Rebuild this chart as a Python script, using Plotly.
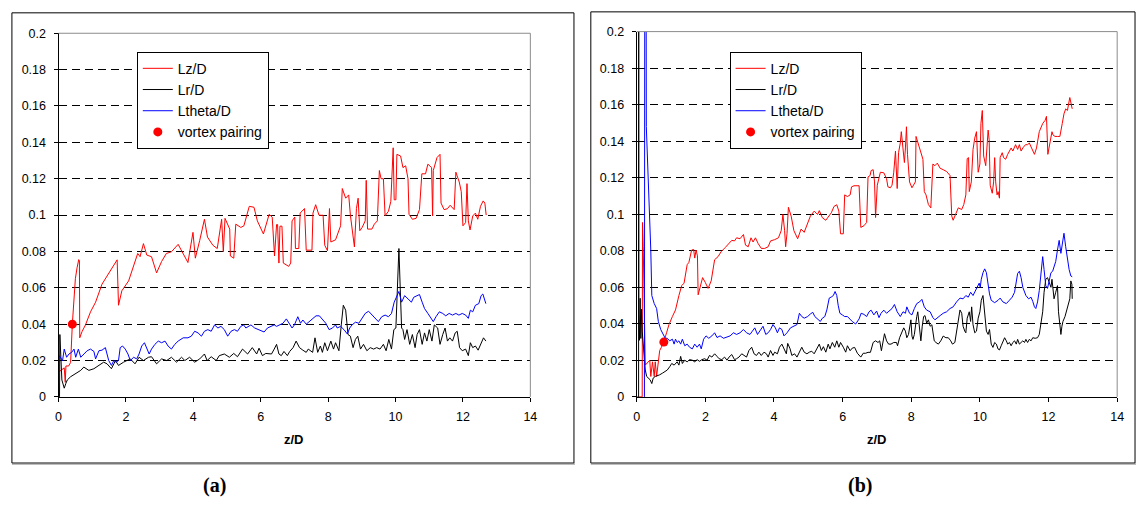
import plotly.graph_objects as go

# ---------------- panel (a) ----------------
a_lz_z = [0.03, 0.12, 0.17, 0.20, 0.22, 0.30, 0.36, 0.41, 0.50, 0.55, 0.60, 0.62, 0.63, 0.70, 0.80, 0.95,
          1.10, 1.29, 1.44, 1.64, 1.74, 1.78, 1.88, 2.08, 2.23, 2.35, 2.42, 2.52, 2.62, 2.76, 2.91, 3.06,
          3.20, 3.35, 3.55, 3.70, 3.84, 3.99, 4.06, 4.19, 4.33, 4.42, 4.58, 4.71, 4.78, 4.84, 4.89, 4.94,
          5.08, 5.10, 5.20, 5.26, 5.41, 5.50, 5.66, 5.80, 5.90, 6.08, 6.25, 6.34, 6.41, 6.47, 6.50, 6.54,
          6.57, 6.63, 6.67, 6.76, 6.83, 6.89, 6.93, 7.01, 7.03, 7.13, 7.17, 7.30, 7.35, 7.52, 7.55, 7.63,
          7.73, 7.85, 7.90, 7.98, 8.04, 8.08, 8.22, 8.37, 8.42, 8.52, 8.61, 8.66, 8.78, 8.84, 8.89, 8.94,
          9.01, 9.10, 9.13, 9.17, 9.30, 9.37, 9.46, 9.52, 9.57, 9.64, 9.69, 9.79, 9.86, 9.93, 9.96, 10.01,
          10.04, 10.15, 10.22, 10.30, 10.37, 10.40, 10.50, 10.61, 10.71, 10.78, 10.89, 10.96, 11.07, 11.10,
          11.12, 11.23, 11.32, 11.35, 11.44, 11.54, 11.62, 11.74, 11.79, 11.89, 11.95, 12.00, 12.08, 12.12,
          12.16, 12.21, 12.29, 12.37, 12.44, 12.52, 12.60, 12.65, 12.69]
a_lz_v = [0.014, 0.015, 0.016, 0.008, 0.017, 0.017, 0.019, 0.040, 0.065, 0.071, 0.0755, 0.075, 0.0325, 0.036, 0.0396, 0.0468,
          0.0521, 0.062, 0.0664, 0.0727, 0.0754, 0.0504, 0.0584, 0.0638, 0.0718, 0.0789, 0.0771, 0.0843, 0.078, 0.0771, 0.0682, 0.0745,
          0.0789, 0.0798, 0.0839, 0.0789, 0.0739, 0.0905, 0.0763, 0.0861, 0.0977, 0.0879, 0.0834, 0.0816, 0.0914, 0.0977, 0.0798, 0.0982,
          0.0923, 0.0775, 0.0763, 0.095, 0.0932, 0.0941, 0.1048, 0.1043, 0.0968, 0.0896, 0.1004, 0.0989, 0.0775, 0.0948, 0.0948, 0.0736,
          0.0939, 0.0939, 0.0736, 0.0727, 0.0718, 0.0736, 0.0968, 0.0989, 0.0816, 0.0816, 0.1011, 0.1036, 0.0807, 0.0807, 0.1011, 0.1057,
          0.0999, 0.0999, 0.0834, 0.0804, 0.1036, 0.0852, 0.0864, 0.0941, 0.1146, 0.1093, 0.1111, 0.1000, 0.0825, 0.1036, 0.1093, 0.0914,
          0.0932, 0.0968, 0.1191, 0.0923, 0.0923, 0.0950, 0.0968, 0.1245, 0.1200, 0.1200, 0.0996, 0.1021, 0.1075, 0.1370, 0.1084, 0.1084,
          0.1334, 0.1325, 0.1261, 0.1271, 0.1200, 0.1004, 0.0977, 0.0982, 0.1030, 0.1227, 0.1227, 0.1280, 0.1261, 0.0995,
          0.1245, 0.1316, 0.1334, 0.1066, 0.1030, 0.1035, 0.1054, 0.1030, 0.1236, 0.1182, 0.1129, 0.0941, 0.0959, 0.1173,
          0.0968, 0.0918, 0.0995, 0.1011, 0.0977, 0.1048, 0.1078, 0.1066, 0.1000]

a_lr_z = [0.03, 0.04, 0.10, 0.17, 0.22, 0.26, 0.36, 0.51, 0.66, 0.75, 0.90, 1.05, 1.20, 1.34, 1.44, 1.57,
          1.69, 1.78, 1.93, 2.13, 2.27, 2.39, 2.52, 2.67, 2.76, 2.91, 3.06, 3.21, 3.35, 3.50, 3.65, 3.75,
          3.89, 4.04, 4.19, 4.33, 4.41, 4.53, 4.68, 4.77, 4.92, 5.07, 5.20, 5.31, 5.46, 5.61, 5.75, 5.88,
          5.95, 6.05, 6.15, 6.32, 6.40, 6.47, 6.54, 6.61, 6.69, 6.79, 6.86, 6.96, 7.05, 7.15, 7.25, 7.35,
          7.41, 7.54, 7.61, 7.69, 7.77, 7.83, 7.90, 7.98, 8.08, 8.16, 8.22, 8.32, 8.39, 8.45, 8.52, 8.59,
          8.66, 8.74, 8.81, 8.88, 8.96, 9.05, 9.15, 9.25, 9.35, 9.44, 9.54, 9.64, 9.72, 9.80, 9.88, 9.95,
          10.01, 10.06, 10.10, 10.14, 10.18, 10.22, 10.27, 10.34, 10.42, 10.50, 10.58, 10.64, 10.71, 10.79,
          10.86, 10.93, 11.00, 11.08, 11.15, 11.25, 11.32, 11.40, 11.47, 11.54, 11.61, 11.69, 11.77, 11.83,
          11.90, 11.98, 12.08, 12.16, 12.22, 12.29, 12.37, 12.45, 12.55, 12.61, 12.68]
a_lr_v = [0.0, 0.0343, 0.0093, 0.0048, 0.0075, 0.0093, 0.0111, 0.0129, 0.0146, 0.0164, 0.0146, 0.0155, 0.0173, 0.0191, 0.0182, 0.0155,
          0.0200, 0.0173, 0.0191, 0.0209, 0.0182, 0.0218, 0.0200, 0.0218, 0.0221, 0.0182, 0.0209, 0.0200, 0.0218, 0.0191, 0.0218, 0.0200,
          0.0218, 0.0191, 0.0209, 0.0236, 0.0200, 0.0221, 0.0200, 0.0227, 0.0236, 0.0218, 0.0239, 0.0221, 0.0263, 0.0236, 0.0271, 0.0236,
          0.0268, 0.0227, 0.0239, 0.0236, 0.0263, 0.0289, 0.0236, 0.0227, 0.0250, 0.0227, 0.0250, 0.0271, 0.0307, 0.0271, 0.0257, 0.0245,
          0.0263, 0.0245, 0.0325, 0.0245, 0.0280, 0.0245, 0.0298, 0.0254, 0.0307, 0.0263, 0.0298, 0.0254, 0.0396, 0.0504, 0.0477, 0.0343,
          0.0334, 0.0271, 0.0316, 0.0334, 0.0263, 0.0289, 0.0254, 0.0271, 0.0263, 0.0271, 0.0263, 0.0289, 0.0254, 0.0316, 0.0263, 0.0370,
          0.0379, 0.0593, 0.0816, 0.0593, 0.0379, 0.0370, 0.0316, 0.0370, 0.0289, 0.0343, 0.0271, 0.0343, 0.0370, 0.0289,
          0.0352, 0.0307, 0.0370, 0.0307, 0.0396, 0.0379, 0.0289, 0.0343, 0.0379, 0.0307, 0.0325, 0.0307, 0.0352, 0.0361,
          0.0271, 0.0254, 0.0263, 0.0227, 0.0298, 0.0271, 0.0280, 0.0257, 0.0298, 0.0325, 0.0307]

a_lt_z = [0.0, 0.02, 0.12, 0.17, 0.24, 0.31, 0.39, 0.46, 0.51, 0.59, 0.66, 0.75, 0.85, 0.95, 1.05, 1.10,
          1.20, 1.29, 1.39, 1.49, 1.57, 1.64, 1.71, 1.78, 1.83, 1.90, 1.98, 2.06, 2.13, 2.23, 2.32, 2.39,
          2.47, 2.55, 2.62, 2.69, 2.76, 2.86, 2.96, 3.06, 3.16, 3.25, 3.35, 3.45, 3.55, 3.70, 3.84, 3.94,
          4.04, 4.14, 4.24, 4.33, 4.43, 4.53, 4.63, 4.73, 4.82, 4.92, 5.02, 5.12, 5.22, 5.31, 5.41, 5.49,
          5.56, 5.63, 5.71, 5.82, 5.95, 6.10, 6.20, 6.32, 6.40, 6.47, 6.57, 6.66, 6.76, 6.86, 6.93, 7.00,
          7.10, 7.18, 7.25, 7.35, 7.44, 7.54, 7.64, 7.74, 7.83, 7.93, 8.03, 8.13, 8.22, 8.27, 8.37, 8.47,
          8.57, 8.64, 8.71, 8.81, 8.91, 9.00, 9.10, 9.20, 9.30, 9.40, 9.49, 9.59, 9.69, 9.79, 9.88, 9.96,
          10.03, 10.10, 10.18, 10.27, 10.37, 10.47, 10.54, 10.62, 10.71, 10.79, 10.86, 10.96, 11.05, 11.12,
          11.20, 11.30, 11.40, 11.49, 11.59, 11.69, 11.79, 11.88, 11.98, 12.08, 12.16, 12.22, 12.29, 12.37,
          12.47, 12.54, 12.59, 12.64, 12.68]
a_lt_v = [0.0, 0.0227, 0.0200, 0.0263, 0.0218, 0.0236, 0.0245, 0.0263, 0.0218, 0.0263, 0.0218, 0.0236, 0.0254, 0.0263, 0.0250, 0.0209,
          0.0254, 0.0257, 0.0271, 0.0200, 0.0173, 0.0200, 0.0191, 0.0200, 0.0271, 0.0280, 0.0263, 0.0236, 0.0200, 0.0218, 0.0209, 0.0236,
          0.0280, 0.0298, 0.0263, 0.0236, 0.0263, 0.0289, 0.0307, 0.0298, 0.0307, 0.0280, 0.0263, 0.0289, 0.0307, 0.0325, 0.0325, 0.0334,
          0.0361, 0.0352, 0.0334, 0.0361, 0.0370, 0.0361, 0.0396, 0.0379, 0.0388, 0.0370, 0.0334, 0.0361, 0.0370, 0.0361, 0.0388, 0.0396,
          0.0379, 0.0388, 0.0396, 0.0379, 0.0370, 0.0357, 0.0379, 0.0389, 0.0396, 0.0388, 0.0396, 0.0405, 0.0429, 0.0396, 0.0379, 0.0396,
          0.0441, 0.0405, 0.0423, 0.0400, 0.0414, 0.0432, 0.0446, 0.0446, 0.0429, 0.0405, 0.0370, 0.0379, 0.0396, 0.0379, 0.0388, 0.0370,
          0.0346, 0.0379, 0.0396, 0.0411, 0.0405, 0.0432, 0.0459, 0.0471, 0.0450, 0.0432, 0.0414, 0.0441, 0.0450, 0.0441, 0.0459, 0.0521,
          0.0548, 0.0580, 0.0521, 0.0557, 0.0539, 0.0521, 0.0548, 0.0557, 0.0563, 0.0521, 0.0486, 0.0459, 0.0432, 0.0414,
          0.0441, 0.0468, 0.0459, 0.0446, 0.0459, 0.0450, 0.0459, 0.0450, 0.0459, 0.0450, 0.0432, 0.0477, 0.0468, 0.0504,
          0.0513, 0.0557, 0.0566, 0.0539, 0.0513]

a_pair_z = [0.41]
a_pair_v = [0.040]

# ---------------- panel (b) ----------------
b_lz_z = [0.0, 0.16, 0.17, 0.19, 0.25, 0.32, 0.38, 0.41, 0.46, 0.51, 0.54, 0.58, 0.63, 0.67, 0.72, 0.79,
          0.87, 0.94, 1.04, 1.13, 1.23, 1.31, 1.38, 1.47, 1.52, 1.60, 1.66, 1.69, 1.73, 1.77, 1.79, 1.86,
          1.92, 2.00, 2.08, 2.17, 2.27, 2.37, 2.46, 2.58, 2.67, 2.77, 2.85, 2.91, 3.01, 3.11, 3.17, 3.25,
          3.33, 3.39, 3.46, 3.54, 3.63, 3.73, 3.83, 3.90, 4.02, 4.13, 4.21, 4.26, 4.31, 4.34, 4.38, 4.42,
          4.50, 4.58, 4.69, 4.79, 4.88, 4.98, 5.06, 5.17, 5.27, 5.32, 5.41, 5.51, 5.61, 5.67, 5.75, 5.83,
          5.89, 5.94, 6.02, 6.06, 6.14, 6.22, 6.26, 6.33, 6.48, 6.53, 6.62, 6.70, 6.74, 6.80, 6.83, 6.89,
          6.93, 6.96, 7.01, 7.06, 7.10, 7.20, 7.28, 7.32, 7.39, 7.44, 7.49, 7.54, 7.59, 7.63, 7.68, 7.71,
          7.76, 7.80, 7.83, 7.86, 7.89, 7.95, 8.02, 8.07, 8.12, 8.14, 8.21, 8.28, 8.34, 8.38, 8.43, 8.50,
          8.57, 8.63, 8.69, 8.76, 8.84, 8.93, 9.03, 9.13, 9.18, 9.22, 9.30, 9.37, 9.47, 9.53, 9.59, 9.63,
          9.67, 9.69, 9.75, 9.80, 9.85, 9.90, 9.95, 10.00, 10.03, 10.07, 10.11, 10.17, 10.24, 10.27, 10.30, 10.36,
          10.40, 10.43, 10.46, 10.50, 10.53, 10.57, 10.59, 10.65, 10.69, 10.75, 10.81, 10.86, 10.91, 10.96, 11.04, 11.10,
          11.15, 11.20, 11.25, 11.33, 11.39, 11.44, 11.52, 11.59, 11.65, 11.73, 11.83, 11.90, 11.94, 11.98, 12.04, 12.10,
          12.13, 12.19, 12.26, 12.33, 12.40, 12.45, 12.50, 12.55, 12.62, 12.66, 12.69]
b_lz_v = [0.0, 0.0, 0.0955, 0.0822, 0.0174, 0.0192, 0.0201, 0.0112, 0.0192, 0.0112, 0.0192, 0.0112, 0.0201, 0.0254, 0.0272, 0.0303,
          0.0351, 0.0396, 0.0440, 0.0476, 0.0555, 0.0609, 0.0623, 0.0724, 0.0736, 0.0804, 0.0807, 0.0760, 0.0804, 0.0772, 0.0559, 0.0609,
          0.0653, 0.0626, 0.0594, 0.0635, 0.0751, 0.0768, 0.0795, 0.0818, 0.0839, 0.0857, 0.0854, 0.0871, 0.0866, 0.0889, 0.0831, 0.0822,
          0.0871, 0.0848, 0.0871, 0.0839, 0.0813, 0.0813, 0.0822, 0.0854, 0.0861, 0.0871, 0.0910, 0.0999, 0.0910, 0.0822, 0.0896, 0.1038,
          0.0990, 0.0910, 0.0866, 0.0919, 0.0901, 0.0955, 0.0990, 0.1017, 0.0999, 0.1020, 0.0981, 0.0967, 0.0990, 0.1008, 0.1043, 0.1052,
          0.1017, 0.0893, 0.0893, 0.1106, 0.1097, 0.1106, 0.1150, 0.1156, 0.1156, 0.0928, 0.0937, 0.0955, 0.1204, 0.1212, 0.1239, 0.1244,
          0.1177, 0.0982, 0.1159, 0.1195, 0.1230, 0.1227, 0.1195, 0.1150, 0.1145, 0.1159, 0.1230, 0.1346, 0.1141, 0.1337, 0.1390, 0.1452,
          0.1346, 0.1283, 0.1363, 0.1479, 0.1328, 0.1177, 0.1145, 0.1159, 0.1177, 0.1426, 0.1381, 0.1337, 0.1301, 0.1124, 0.1106, 0.1053,
          0.1035, 0.1275, 0.1266, 0.1280, 0.1252, 0.1244, 0.1234, 0.1212, 0.0990, 0.0967, 0.0999, 0.1035, 0.1026, 0.1053, 0.1106, 0.1305,
          0.1310, 0.1124, 0.1177, 0.1355, 0.1417, 0.1452, 0.1230, 0.1275, 0.1497, 0.1568, 0.1319, 0.1266, 0.1461, 0.1408, 0.1159, 0.1115,
          0.1177, 0.1310, 0.1177, 0.1106, 0.1124, 0.1088, 0.1310, 0.1337, 0.1310, 0.1301, 0.1328, 0.1346, 0.1363, 0.1346, 0.1381, 0.1355,
          0.1381, 0.1346, 0.1363, 0.1381, 0.1381, 0.1390, 0.1355, 0.1328, 0.1363, 0.1452, 0.1497, 0.1514, 0.1536, 0.1328, 0.1390, 0.1452,
          0.1434, 0.1426, 0.1426, 0.1426, 0.1497, 0.1550, 0.1577, 0.1568, 0.1639, 0.1612, 0.1577]

b_lr_z = [0.055, 0.058, 0.062, 0.08, 0.10, 0.12, 0.14, 0.16, 0.25, 0.29, 0.35, 0.39, 0.44, 0.48, 0.54, 0.61,
          0.67, 0.75, 0.83, 0.89, 0.96, 1.02, 1.09, 1.13, 1.18, 1.23, 1.28, 1.33, 1.40, 1.47, 1.54, 1.62,
          1.69, 1.76, 1.83, 1.90, 1.98, 2.05, 2.12, 2.19, 2.27, 2.34, 2.40, 2.48, 2.56, 2.63, 2.69, 2.77,
          2.85, 2.91, 2.98, 3.06, 3.13, 3.20, 3.27, 3.35, 3.42, 3.49, 3.56, 3.63, 3.71, 3.78, 3.83, 3.90,
          3.97, 4.02, 4.10, 4.16, 4.23, 4.29, 4.36, 4.40, 4.47, 4.52, 4.60, 4.67, 4.74, 4.81, 4.88, 4.96,
          5.03, 5.10, 5.17, 5.25, 5.32, 5.38, 5.44, 5.51, 5.58, 5.63, 5.70, 5.77, 5.83, 5.89, 5.94, 6.02,
          6.09, 6.14, 6.22, 6.28, 6.35, 6.43, 6.53, 6.60, 6.67, 6.74, 6.81, 6.89, 6.96, 7.03, 7.08, 7.13,
          7.18, 7.22, 7.28, 7.34, 7.41, 7.49, 7.57, 7.60, 7.66, 7.73, 7.78, 7.83, 7.87, 7.92, 7.95, 7.99,
          8.02, 8.05, 8.09, 8.12, 8.16, 8.19, 8.24, 8.28, 8.32, 8.36, 8.40, 8.45, 8.50, 8.55, 8.60, 8.63,
          8.67, 8.72, 8.79, 8.86, 8.93, 9.01, 9.08, 9.15, 9.20, 9.27, 9.32, 9.37, 9.42, 9.47, 9.51, 9.56,
          9.59, 9.63, 9.69, 9.73, 9.76, 9.80, 9.85, 9.90, 9.95, 10.00, 10.04, 10.09, 10.14, 10.19, 10.24, 10.28,
          10.33, 10.38, 10.43, 10.48, 10.53, 10.57, 10.62, 10.67, 10.72, 10.77, 10.81, 10.86, 10.91, 10.96, 11.01, 11.06,
          11.10, 11.15, 11.20, 11.25, 11.30, 11.34, 11.39, 11.44, 11.49, 11.54, 11.61, 11.68, 11.73, 11.78, 11.83, 11.87,
          11.92, 11.97, 12.02, 12.07, 12.10, 12.13, 12.16, 12.21, 12.26, 12.29, 12.33, 12.36, 12.39, 12.42, 12.48, 12.52,
          12.58, 12.62, 12.65, 12.68, 12.69]
b_lr_v = [0.0, 0.35, 0.045, 0.031, 0.054, 0.032, 0.048, 0.036, 0.0147, 0.0112, 0.0103, 0.0094, 0.0073, 0.0103, 0.0112, 0.0115,
          0.0121, 0.0130, 0.0138, 0.0147, 0.0165, 0.0183, 0.0174, 0.0183, 0.0192, 0.0174, 0.0222, 0.0183, 0.0201, 0.0192, 0.0204, 0.0201,
          0.0192, 0.0204, 0.0195, 0.0204, 0.0209, 0.0201, 0.0227, 0.0218, 0.0236, 0.0222, 0.0209, 0.0204, 0.0218, 0.0201, 0.0218, 0.0232,
          0.0204, 0.0209, 0.0218, 0.0236, 0.0227, 0.0218, 0.0254, 0.0272, 0.0236, 0.0227, 0.0245, 0.0227, 0.0245, 0.0236, 0.0218, 0.0254,
          0.0227, 0.0245, 0.0236, 0.0272, 0.0289, 0.0263, 0.0236, 0.0293, 0.0263, 0.0227, 0.0236, 0.0218, 0.0245, 0.0272, 0.0245, 0.0236,
          0.0245, 0.0250, 0.0236, 0.0263, 0.0289, 0.0254, 0.0275, 0.0245, 0.0289, 0.0263, 0.0298, 0.0272, 0.0307, 0.0272, 0.0298, 0.0272,
          0.0245, 0.0280, 0.0253, 0.0267, 0.0271, 0.0239, 0.0218, 0.0239, 0.0239, 0.0244, 0.0244, 0.0298, 0.0307, 0.0298, 0.0307, 0.0253,
          0.0307, 0.0346, 0.0307, 0.0289, 0.0289, 0.0298, 0.0298, 0.0280, 0.0324, 0.0351, 0.0378, 0.0360, 0.0324, 0.0342, 0.0369, 0.0422,
          0.0333, 0.0315, 0.0342, 0.0395, 0.0440, 0.0466, 0.0378, 0.0307, 0.0387, 0.0440, 0.0445, 0.0404, 0.0422, 0.0387, 0.0395, 0.0342,
          0.0307, 0.0298, 0.0289, 0.0307, 0.0333, 0.0324, 0.0324, 0.0307, 0.0289, 0.0298, 0.0360, 0.0440, 0.0476, 0.0458, 0.0387, 0.0360,
          0.0351, 0.0431, 0.0466, 0.0413, 0.0493, 0.0395, 0.0351, 0.0360, 0.0431, 0.0466, 0.0529, 0.0555, 0.0466, 0.0360, 0.0342, 0.0369,
          0.0289, 0.0271, 0.0298, 0.0289, 0.0262, 0.0257, 0.0280, 0.0307, 0.0324, 0.0307, 0.0289, 0.0298, 0.0280, 0.0298, 0.0307, 0.0289,
          0.0315, 0.0289, 0.0298, 0.0307, 0.0298, 0.0315, 0.0298, 0.0315, 0.0307, 0.0324, 0.0321, 0.0324, 0.0342, 0.0395, 0.0466, 0.0573,
          0.0644, 0.0653, 0.0626, 0.0600, 0.0644, 0.0591, 0.0537, 0.0573, 0.0609, 0.0466, 0.0395, 0.0342, 0.0387, 0.0413, 0.0440, 0.0466,
          0.0502, 0.0537, 0.0635, 0.0617, 0.0537]

b_lt_z = [0.225, 0.23, 0.235, 0.24, 0.245, 0.25, 0.28, 0.31, 0.32, 0.37, 0.41, 0.44, 0.51, 0.58, 0.63, 0.70,
          0.75, 0.83, 0.89, 0.96, 1.04, 1.09, 1.13, 1.18, 1.23, 1.28, 1.33, 1.40, 1.47, 1.54, 1.62, 1.69,
          1.76, 1.83, 1.88, 1.95, 2.02, 2.10, 2.19, 2.27, 2.34, 2.43, 2.53, 2.63, 2.72, 2.82, 2.91, 3.01,
          3.11, 3.20, 3.30, 3.37, 3.44, 3.52, 3.59, 3.68, 3.76, 3.83, 3.90, 3.97, 4.04, 4.10, 4.16, 4.23,
          4.29, 4.38, 4.48, 4.58, 4.67, 4.74, 4.81, 4.88, 4.98, 5.06, 5.13, 5.19, 5.27, 5.35, 5.41, 5.48,
          5.54, 5.61, 5.67, 5.73, 5.78, 5.83, 5.87, 5.92, 5.99, 6.06, 6.14, 6.22, 6.28, 6.38, 6.48, 6.54,
          6.62, 6.70, 6.77, 6.83, 6.91, 6.99, 7.06, 7.12, 7.20, 7.28, 7.34, 7.44, 7.51, 7.59, 7.68, 7.76,
          7.83, 7.87, 7.95, 8.02, 8.09, 8.16, 8.24, 8.31, 8.38, 8.45, 8.55, 8.63, 8.69, 8.76, 8.84, 8.93,
          9.03, 9.13, 9.22, 9.32, 9.42, 9.51, 9.59, 9.66, 9.73, 9.80, 9.85, 9.92, 9.98, 10.01, 10.04, 10.09,
          10.14, 10.19, 10.24, 10.28, 10.33, 10.43, 10.53, 10.59, 10.67, 10.77, 10.86, 10.94, 11.01, 11.06, 11.10, 11.15,
          11.20, 11.25, 11.30, 11.34, 11.42, 11.49, 11.54, 11.59, 11.63, 11.68, 11.73, 11.78, 11.83, 11.87, 11.92, 11.97,
          12.02, 12.07, 12.12, 12.16, 12.21, 12.26, 12.31, 12.36, 12.39, 12.45, 12.50, 12.55, 12.60, 12.65, 12.69]
b_lt_v = [0.0, 0.6, 0.0, 0.6, 0.0, 0.6, 0.148, 0.132, 0.1336, 0.107, 0.0804, 0.0555, 0.0511, 0.0484, 0.0413, 0.0369,
          0.0351, 0.0321, 0.0321, 0.0307, 0.0316, 0.0289, 0.0316, 0.0298, 0.0307, 0.0289, 0.0316, 0.0280, 0.0289, 0.0272, 0.0263, 0.0289,
          0.0272, 0.0289, 0.0263, 0.0316, 0.0334, 0.0321, 0.0334, 0.0351, 0.0325, 0.0334, 0.0321, 0.0328, 0.0334, 0.0351, 0.0342, 0.0351,
          0.0369, 0.0351, 0.0342, 0.0360, 0.0378, 0.0342, 0.0360, 0.0387, 0.0342, 0.0351, 0.0369, 0.0396, 0.0378, 0.0351, 0.0378, 0.0369,
          0.0334, 0.0351, 0.0378, 0.0387, 0.0396, 0.0458, 0.0440, 0.0431, 0.0440, 0.0454, 0.0463, 0.0440, 0.0428, 0.0413, 0.0431, 0.0440,
          0.0476, 0.0541, 0.0547, 0.0555, 0.0577, 0.0555, 0.0502, 0.0458, 0.0449, 0.0440, 0.0440, 0.0422, 0.0413, 0.0399, 0.0427, 0.0458,
          0.0452, 0.0440, 0.0466, 0.0475, 0.0449, 0.0470, 0.0434, 0.0458, 0.0475, 0.0458, 0.0466, 0.0484, 0.0506, 0.0466, 0.0440, 0.0466,
          0.0458, 0.0493, 0.0458, 0.0449, 0.0484, 0.0511, 0.0520, 0.0534, 0.0493, 0.0475, 0.0466, 0.0434, 0.0422, 0.0431, 0.0445, 0.0458,
          0.0466, 0.0484, 0.0493, 0.0520, 0.0541, 0.0537, 0.0555, 0.0546, 0.0573, 0.0555, 0.0573, 0.0594, 0.0623, 0.0600, 0.0644, 0.0680,
          0.0701, 0.0680, 0.0617, 0.0564, 0.0529, 0.0516, 0.0529, 0.0541, 0.0520, 0.0511, 0.0529, 0.0546, 0.0573, 0.0626, 0.0676, 0.0688,
          0.0653, 0.0600, 0.0573, 0.0555, 0.0537, 0.0546, 0.0523, 0.0493, 0.0484, 0.0520, 0.0582, 0.0680, 0.0768, 0.0697, 0.0609, 0.0594,
          0.0644, 0.0680, 0.0688, 0.0715, 0.0742, 0.0804, 0.0857, 0.0786, 0.0831, 0.0896, 0.0822, 0.0751, 0.0697, 0.0662, 0.0658]

b_pair_z = [0.79]
b_pair_v = [0.030]

y_ticks = [0, 0.02, 0.04, 0.06, 0.08, 0.1, 0.12, 0.14, 0.16, 0.18, 0.2]
y_tick_text = ["0", "0.02", "0.04", "0.06", "0.08", "0.1", "0.12", "0.14", "0.16", "0.18", "0.2"]
x_ticks = [0, 2, 4, 6, 8, 10, 12, 14]
series_names = ["Lz/D", "Lr/D", "Ltheta/D", "vortex pairing"]
panel_labels = ["(a)", "(b)"]
x_title = "z/D"

W, H = 1144, 506
SANS = "Arial, 'Liberation Sans', sans-serif"
SERIF = "'Times New Roman', 'Liberation Serif', serif"
RED, BLACK, BLUE = "#ff0000", "#000000", "#0000ff"


def px(x):
    return x / W


def py(y):
    return 1 - y / H


fig = go.Figure()

panels = [
    dict(xa="x", ya="y", leg="legend",
         data=[(a_lz_z, a_lz_v), (a_lr_z, a_lr_v), (a_lt_z, a_lt_v)], pair=(a_pair_z, a_pair_v)),
    dict(xa="x2", ya="y2", leg="legend2",
         data=[(b_lz_z, b_lz_v), (b_lr_z, b_lr_v), (b_lt_z, b_lt_v)], pair=(b_pair_z, b_pair_v)),
]
colors = [RED, BLACK, BLUE]

for p in panels:
    for (zs, vs), name, col in zip(p["data"], series_names[:3], colors):
        fig.add_trace(go.Scatter(x=zs, y=vs, mode="lines", name=name,
                                 line=dict(color=col, width=1),
                                 xaxis=p["xa"], yaxis=p["ya"], legend=p["leg"]))
    fig.add_trace(go.Scatter(x=p["pair"][0], y=p["pair"][1], mode="markers", name=series_names[3],
                             marker=dict(color=RED, size=9, line=dict(width=0)),
                             xaxis=p["xa"], yaxis=p["ya"], legend=p["leg"]))

# plot-area geometry in pixels: (left, right, top, bottom)
areas = [(56, 532, 27, 401), (639.3, 1124, 25.3, 401)]

axis_common_x = dict(range=[0, 14], tickvals=x_ticks, ticks="outside", ticklen=4, tickcolor="black",
                     showline=True, linecolor="black", linewidth=1, showgrid=False, zeroline=False,
                     tickfont=dict(family=SANS, size=12.5, color="black"), ticklabelstandoff=4)
axis_common_y = dict(range=[0, 0.2], tickvals=y_ticks, ticktext=y_tick_text, ticks="outside", ticklen=4,
                     tickcolor="black", showline=True, linecolor="black", linewidth=1, zeroline=False,
                     showgrid=True, gridcolor="black", gridwidth=1, griddash="8px,5px",
                     tickfont=dict(family=SANS, size=12.5, color="black"), ticklabelstandoff=5)

(l1, r1, t1, b1), (l2, r2, t2, b2) = areas
fig.update_layout(
    xaxis=dict(domain=[px(l1), px(r1)], anchor="y", **axis_common_x),
    yaxis=dict(domain=[py(b1), py(t1)], anchor="x", **axis_common_y),
    xaxis2=dict(domain=[px(l2), px(r2)], anchor="y2", **axis_common_x),
    yaxis2=dict(domain=[py(b2), py(t2)], anchor="x2", **axis_common_y),
)

shapes = []
# gray top/right edges of each plot area
for xr, yr in (("x domain", "y domain"), ("x2 domain", "y2 domain")):
    shapes.append(dict(type="line", xref=xr, yref=yr, x0=0, x1=1, y0=1, y1=1,
                       line=dict(color="#8c8c8c", width=1), layer="above"))
    shapes.append(dict(type="line", xref=xr, yref=yr, x0=1, x1=1, y0=0, y1=1,
                       line=dict(color="#8c8c8c", width=1), layer="above"))
# outer chart frames
for (fl, fr, ft, fb) in ((9, 576, 6, 469), (593, 1142, 5, 469)):
    shapes.append(dict(type="rect", xref="paper", yref="paper", x0=px(fl), x1=px(fr), y0=py(fb), y1=py(ft),
                       line=dict(color="black", width=1), fillcolor="rgba(0,0,0,0)", layer="below"))
    shapes.append(dict(type="line", xref="paper", yref="paper", x0=px(fl), x1=px(fr + 1),
                       y0=py(fb + 1), y1=py(fb + 1), line=dict(color="#777777", width=1)))

annotations = []
for (l, r, t, b), lab in zip(areas, panel_labels):
    annotations.append(dict(text="<b>" + x_title + "</b>", x=px((l + r) / 2), y=py(445), xref="paper", yref="paper",
                            showarrow=False, xanchor="center", yanchor="middle",
                            font=dict(family=SANS, size=13, color="black")))
annotations.append(dict(text="<b>" + panel_labels[0] + "</b>", x=px(213), y=py(492), xref="paper", yref="paper",
                        showarrow=False, xanchor="center", yanchor="middle",
                        font=dict(family=SERIF, size=20, color="black")))
annotations.append(dict(text="<b>" + panel_labels[1] + "</b>", x=px(865), y=py(492), xref="paper", yref="paper",
                        showarrow=False, xanchor="center", yanchor="middle",
                        font=dict(family=SERIF, size=20, color="black")))

legend_style = dict(xanchor="left", yanchor="top", bgcolor="white", bordercolor="black", borderwidth=1,
                    font=dict(family=SANS, size=14, color="black"), itemwidth=30, tracegroupgap=0,
                    traceorder="normal")

fig.update_layout(
    width=W, height=H, margin=dict(l=0, r=0, t=0, b=0),
    paper_bgcolor="white", plot_bgcolor="white",
    showlegend=True,
    legend=dict(x=px(135), y=py(46), **legend_style),
    legend2=dict(x=px(733), y=py(46), **legend_style),
    shapes=shapes, annotations=annotations,
)

fig.write_html("out.html")
